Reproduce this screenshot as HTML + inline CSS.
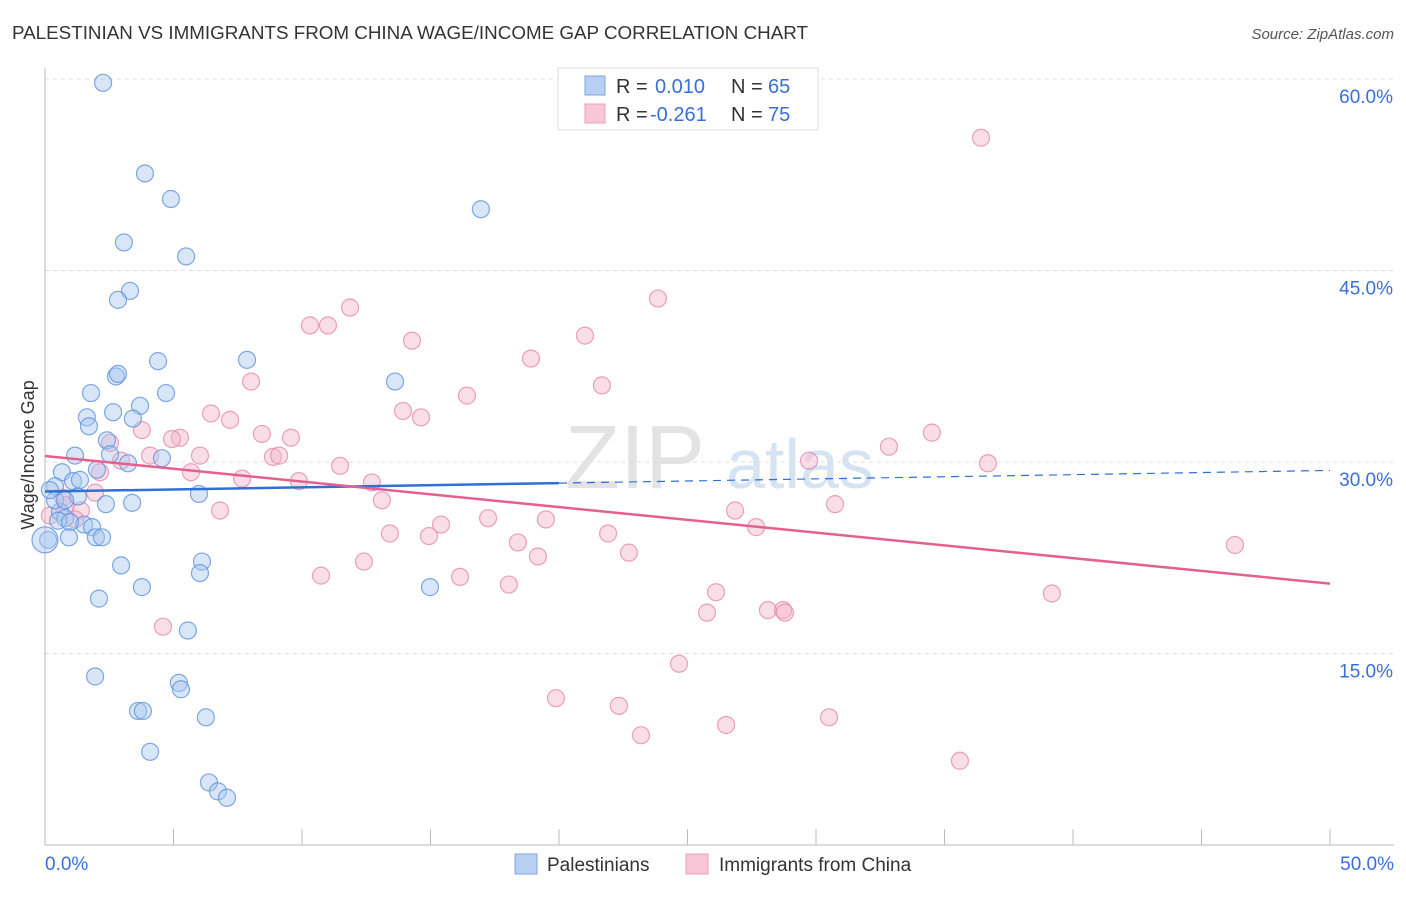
<!DOCTYPE html>
<html><head><meta charset="utf-8">
<style>
body{margin:0;background:#fff;font-family:"Liberation Sans",sans-serif;}
svg text{font-family:"Liberation Sans",sans-serif;}
</style></head>
<body>
<svg id="chart" width="1406" height="892" viewBox="0 0 1406 892">
<text x="12" y="39" font-size="18" fill="#333" textLength="796" lengthAdjust="spacingAndGlyphs">PALESTINIAN VS IMMIGRANTS FROM CHINA WAGE/INCOME GAP CORRELATION CHART</text>
<text x="1394" y="39" font-size="15" fill="#555" font-style="italic" text-anchor="end">Source: ZipAtlas.com</text>
<text x="635" y="488" font-size="90" fill="#e3e3e3" font-family="Liberation Serif" text-anchor="middle">ZIP</text>
<text x="800" y="488" font-size="70" fill="#d5e3f3" text-anchor="middle">atlas</text>
<g id="grid"></g><g id="axes"></g><g id="pts"></g><g id="lines"></g>
<text x="34" y="455" font-size="18" fill="#333" text-anchor="middle" transform="rotate(-90 34 455)">Wage/Income Gap</text>
<g>
<rect x="558" y="68" width="260" height="62" fill="#fff" stroke="#ddd"/>
<rect x="585" y="76" width="20" height="19" fill="#b7d0f2" stroke="#7ea6e0"/>
<rect x="585" y="104" width="20" height="19" fill="#f8c6d6" stroke="#eaa0ba"/>
<text x="616" y="93" font-size="20" fill="#333">R = </text><text x="655" y="93" font-size="20" fill="#3a6fd8">0.010</text>
<text x="731" y="93" font-size="20" fill="#333">N = </text><text x="768" y="93" font-size="20" fill="#3a6fd8">65</text>
<text x="616" y="121" font-size="20" fill="#333">R = </text><text x="650" y="121" font-size="20" fill="#3a6fd8">-0.261</text>
<text x="731" y="121" font-size="20" fill="#333">N = </text><text x="768" y="121" font-size="20" fill="#3a6fd8">75</text>
</g>
<g>
<rect x="515" y="854" width="22" height="20" fill="#b7d0f2" stroke="#7ea6e0"/>
<text x="547" y="871" font-size="19" fill="#333">Palestinians</text>
<rect x="686" y="854" width="22" height="20" fill="#f8c6d6" stroke="#eaa0ba"/>
<text x="719" y="871" font-size="19" fill="#333">Immigrants from China</text>
</g>
</svg>
<script>
const blueX=[2.26,3.89,4.90,16.96,3.07,5.49,3.31,2.84,4.40,7.86,2.76,2.84,13.62,1.79,4.71,3.70,2.65,1.63,3.42,1.71,2.41,2.53,1.17,3.23,4.55,2.02,0.66,0.39,1.09,1.28,5.99,2.37,3.39,0.58,0.78,0.51,1.52,1.83,0.97,1.98,0.93,2.22,0.12,0.0,6.11,6.03,2.96,3.77,14.98,2.10,5.56,1.95,5.21,5.29,3.62,3.81,6.26,4.09,6.38,6.73,7.08,0.39,0.19,1.36,0.78];
const blueY=[59.7,52.6,50.6,49.8,47.2,46.1,43.4,42.7,37.9,38.0,36.7,36.9,36.3,35.4,35.4,34.4,33.9,33.5,33.4,32.8,31.7,30.6,30.5,29.9,30.3,29.4,29.2,28.1,28.5,27.3,27.5,26.7,26.8,26.1,25.6,25.4,25.1,24.9,25.3,24.1,24.1,24.1,23.9,23.9,22.2,21.3,21.9,20.2,20.2,19.3,16.8,13.2,12.7,12.2,10.5,10.5,10.0,7.3,4.9,4.2,3.7,27.0,27.8,28.6,27.0];
const pinkX=[36.42,23.85,11.87,10.31,11.01,14.28,18.91,21.01,21.67,8.02,16.42,13.93,14.63,7.20,6.46,3.77,5.25,4.94,8.44,9.57,2.53,4.09,6.03,8.87,9.11,2.96,11.48,32.84,34.51,36.69,29.73,5.68,2.14,7.67,9.88,12.72,1.95,0.70,13.11,0.82,1.40,6.81,30.74,26.85,17.24,19.49,15.41,21.91,27.67,14.94,13.42,18.40,22.72,19.18,12.41,10.74,16.15,18.05,46.30,26.11,39.18,25.76,28.13,28.72,28.79,4.59,24.67,19.88,22.33,30.51,26.50,23.19,35.60,0.19,1.17];
const pinkY=[55.4,42.8,42.1,40.7,40.7,39.5,38.1,39.9,36.0,36.3,35.2,34.0,33.5,33.3,33.8,32.5,31.9,31.8,32.2,31.9,31.5,30.5,30.5,30.4,30.5,30.1,29.7,31.2,32.3,29.9,30.1,29.2,29.2,28.7,28.5,28.4,27.6,27.2,27.0,26.6,26.2,26.2,26.7,26.2,25.6,25.5,25.1,24.4,24.9,24.2,24.4,23.7,22.9,22.6,22.2,21.1,21.0,20.4,23.5,19.8,19.7,18.2,18.4,18.4,18.2,17.1,14.2,11.5,10.9,10.0,9.4,8.6,6.6,25.8,25.5];
const yTicks=[15,30,45,60];
const yTickLabels=["15.0%","30.0%","45.0%","60.0%"];
const xTicks=[0,5,10,15,20,25,30,35,40,45,50];
const xEndLabels=["0.0%","50.0%"];

const NS="http://www.w3.org/2000/svg";
const X=v=>45+v/50*1285;
const Y=v=>845-v/60*766;
function mk(tag,attrs,parent){const e=document.createElementNS(NS,tag);for(const k in attrs)e.setAttribute(k,attrs[k]);parent.appendChild(e);return e;}
const grid=document.getElementById('grid'),axes=document.getElementById('axes'),pts=document.getElementById('pts'),lines=document.getElementById('lines');
yTicks.forEach((t,i)=>{
 const l=mk('line',{x1:45,x2:1394,y1:Y(t),y2:Y(t),stroke:'#ddd','stroke-dasharray':'4 4'},grid);
 
 
 const tx=mk('text',{x:1393,y:Y(t)+24,'font-size':19,fill:'#3a6fd8','text-anchor':'end'},axes);
 tx.textContent=yTickLabels[i];
 
 
});
const ax=mk('line',{x1:45,x2:1394,y1:845,y2:845,stroke:'#bbb'},axes);


const ay=mk('line',{x1:45,x2:45,y1:68,y2:845,stroke:'#bbb'},axes);


xTicks.forEach(t=>{
 const l=mk('line',{x1:X(t),x2:X(t),y1:829,y2:845,stroke:'#bbb'},axes);
 
 
});
[[0,'start',45],[50,'end',1394]].forEach((d,i)=>{
 const tx=mk('text',{x:d[2],y:870,'font-size':19,fill:'#3a6fd8','text-anchor':d[1]},axes);
 tx.textContent=xEndLabels[i];
 
 
});
function drawPts(xs,ys,fill,stroke,name){
 xs.forEach((v,i)=>{
  const big=(v===0);
  const c=mk('circle',{cx:X(v),cy:Y(ys[i]),r:big?13:8.5,fill:fill,'fill-opacity':0.45,stroke:stroke,'stroke-width':1.2,'stroke-opacity':0.8},pts);
  
  
 });
}
drawPts(pinkX,pinkY,'#f5b5ca','#e68aab','china-point');
drawPts(blueX,blueY,'#a9c7f0','#5f93dc','palestinian-point');
function fit(xs,ys){const n=xs.length;let sx=0,sy=0,sxx=0,sxy=0;for(let i=0;i<n;i++){sx+=xs[i];sy+=ys[i];sxx+=xs[i]*xs[i];sxy+=xs[i]*ys[i];}const b=(n*sxy-sx*sy)/(n*sxx-sx*sx);return [(sy-b*sx)/n,b];}
const [ba,bb]=fit(blueX,blueY),[pa,pb]=fit(pinkX,pinkY);
const bl=mk('line',{x1:X(0),y1:Y(ba),x2:X(20),y2:Y(ba+bb*20),stroke:'#2f6fd6','stroke-width':2.5},lines);


const bd=mk('line',{x1:X(20),y1:Y(ba+bb*20),x2:X(50),y2:Y(ba+bb*50),stroke:'#2f6fd6','stroke-width':1.2,'stroke-dasharray':'8 6'},lines);


const pl=mk('line',{x1:X(0),y1:Y(pa),x2:X(50),y2:Y(pa+pb*50),stroke:'#e5608f','stroke-width':2.5},lines);


</script>
</body></html>
